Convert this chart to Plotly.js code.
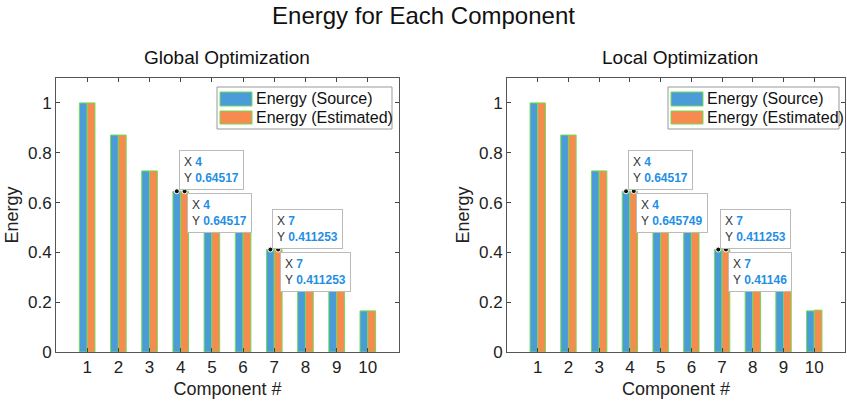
<!DOCTYPE html>
<html>
<head>
<meta charset="utf-8">
<script src="https://cdn.plot.ly/plotly-3.0.1.min.js"></script>
<style>html,body{margin:0;padding:0;background:#fff;}#chart{width:847px;height:406px;}</style>
</head>
<body>
<div id="chart"></div>
<script>
// ---- data ----
const components = [1, 2, 3, 4, 5, 6, 7, 8, 9, 10];
const sourceEnergy = [1.0, 0.871, 0.727, 0.64517, 0.484, 0.484, 0.411253, 0.272, 0.259, 0.165];
const globalEstimated = [1.0, 0.871, 0.727, 0.64517, 0.484, 0.484, 0.411253, 0.272, 0.259, 0.165];
const localEstimated = [1.0, 0.871, 0.727, 0.645749, 0.484, 0.484, 0.41146, 0.272, 0.259, 0.168];
const tipComponents = [4, 7];
const yTickVals = [0, 0.2, 0.4, 0.6, 0.8, 1];
const yTickText = ['0', '0.2', '0.4', '0.6', '0.8', '1'];
const seriesNames = ['Energy (Source)', 'Energy (Estimated)'];
const subplotTitles = ['Global Optimization', 'Local Optimization'];

// ---- style ----
const W = 847, H = 406;
const BLUE = '#4a9bd8';
const ORANGE = '#f78a4e';
const EDGE = '#72dc55';
const TIPBLUE = '#1f8fe6';
const FONT = 'Liberation Sans, Arial, sans-serif';
const BARW = 0.25; // each bar's width in axis units (group width 0.5)
const px = v => v / W;
const py = v => 1 - v / H;

function fmt(v) {
  let s = v.toPrecision(6);
  if (s.indexOf('.') >= 0) s = s.replace(/0+$/, '').replace(/\.$/, '');
  return s;
}

const traces = [];
const annotations = [];
const shapes = [];
const panels = [
  {est: globalEstimated, xa: 'x', ya: 'y', title: 0.268, leg: [217, 392]},
  {est: localEstimated, xa: 'x2', ya: 'y2', title: 0.803, leg: [668, 839]}
];

panels.forEach((p, i) => {
  traces.push({
    type: 'bar', x: components, y: sourceEnergy, name: seriesNames[0],
    xaxis: p.xa, yaxis: p.ya, showlegend: false,
    marker: {color: BLUE, line: {color: EDGE, width: 1}}
  });
  traces.push({
    type: 'bar', x: components, y: p.est, name: seriesNames[1],
    xaxis: p.xa, yaxis: p.ya, showlegend: false,
    marker: {color: ORANGE, line: {color: EDGE, width: 1}}
  });
  // datatip markers
  const dx = [], dy = [];
  tipComponents.forEach(c => {
    const k = components.indexOf(c);
    dx.push(c - BARW / 2, c + BARW / 2);
    dy.push(sourceEnergy[k], p.est[k]);
    const tipText = (val) => 'X <b><span style="color:' + TIPBLUE + '">' + c + '</span></b><br>Y <b><span style="color:' + TIPBLUE + '">' + fmt(val) + '</span></b>';
    const common = {
      showarrow: false, align: 'left', xanchor: 'left',
      bgcolor: 'rgba(255,255,255,0.96)', bordercolor: '#bbbbbb', borderwidth: 1, borderpad: 4,
      font: {family: FONT, size: 12, color: '#333'}
    };
    annotations.push(Object.assign({
      xref: p.xa, yref: p.ya, x: c - BARW / 2, y: sourceEnergy[k],
      text: tipText(sourceEnergy[k]), yanchor: 'bottom', xshift: 2, yshift: 1
    }, common));
    annotations.push(Object.assign({
      xref: p.xa, yref: p.ya, x: c + BARW / 2, y: p.est[k],
      text: tipText(p.est[k]), yanchor: 'top', xshift: 2, yshift: -2
    }, common));
  });
  traces.push({
    type: 'scatter', mode: 'markers', x: dx, y: dy, xaxis: p.xa, yaxis: p.ya,
    showlegend: false, hoverinfo: 'skip',
    marker: {color: '#111', size: 5, line: {color: '#fff', width: 1}}
  });
  // subplot title
  annotations.push({
    xref: 'paper', yref: 'paper', x: p.title, y: py(57),
    text: subplotTitles[i], showarrow: false, xanchor: 'center', yanchor: 'middle',
    font: {family: FONT, size: 19, color: '#111'}
  });
  // legend box (drawn like the reference's wide swatches)
  const L = p.leg[0], R = p.leg[1];
  shapes.push({type: 'rect', xref: 'paper', yref: 'paper', x0: px(L), x1: px(R), y0: py(129), y1: py(87),
               fillcolor: '#fff', line: {color: '#999', width: 1}, layer: 'above'});
  [[BLUE, 92, 106], [ORANGE, 111, 124]].forEach((s, j) => {
    shapes.push({type: 'rect', xref: 'paper', yref: 'paper', x0: px(L + 3), x1: px(L + 35),
                 y0: py(s[2]), y1: py(s[1]), fillcolor: s[0], line: {color: EDGE, width: 1}, layer: 'above'});
    annotations.push({xref: 'paper', yref: 'paper', x: px(L + 37), y: py((s[1] + s[2]) / 2),
                      text: seriesNames[j], showarrow: false, xanchor: 'left', yanchor: 'middle',
                      font: {family: FONT, size: 16, color: '#111'}});
  });
});

function xaxis(domain, anchor) {
  return {
    domain: domain, anchor: anchor, range: [0, 11], tickvals: components,
    ticks: 'inside', ticklen: 4, tickcolor: '#444', mirror: 'ticks',
    showline: true, linecolor: '#555', linewidth: 1, showgrid: false, zeroline: false,
    tickfont: {family: FONT, size: 17, color: '#222'},
    title: {text: 'Component #', font: {family: FONT, size: 18, color: '#222'}, standoff: 5}
  };
}
function yaxis(domain, anchor) {
  return {
    domain: domain, anchor: anchor, range: [0, 1.1], tickvals: yTickVals, ticktext: yTickText,
    ticks: 'inside', ticklen: 4, tickcolor: '#444', mirror: 'ticks',
    showline: true, linecolor: '#555', linewidth: 1, showgrid: false, zeroline: false,
    tickfont: {family: FONT, size: 17, color: '#222'},
    title: {text: 'Energy', font: {family: FONT, size: 18, color: '#222'}, standoff: 4}
  };
}

const yDom = [py(352), py(78)];
const layout = {
  width: W, height: H,
  margin: {l: 0, r: 0, t: 0, b: 0},
  paper_bgcolor: '#fff', plot_bgcolor: '#fff',
  barmode: 'group', bargap: 0.5, bargroupgap: 0,
  title: {text: 'Energy for Each Component', x: 0.5, xanchor: 'center', y: py(16), yanchor: 'middle',
          font: {family: FONT, size: 24, color: '#111'}},
  xaxis: xaxis([px(56), px(399)], 'y'),
  yaxis: yaxis(yDom, 'x'),
  xaxis2: xaxis([px(507), px(845)], 'y2'),
  yaxis2: yaxis(yDom, 'x2'),
  annotations: annotations,
  shapes: shapes,
  showlegend: false
};

Plotly.newPlot('chart', traces, layout, {displayModeBar: false, staticPlot: true});
</script>
</body>
</html>
